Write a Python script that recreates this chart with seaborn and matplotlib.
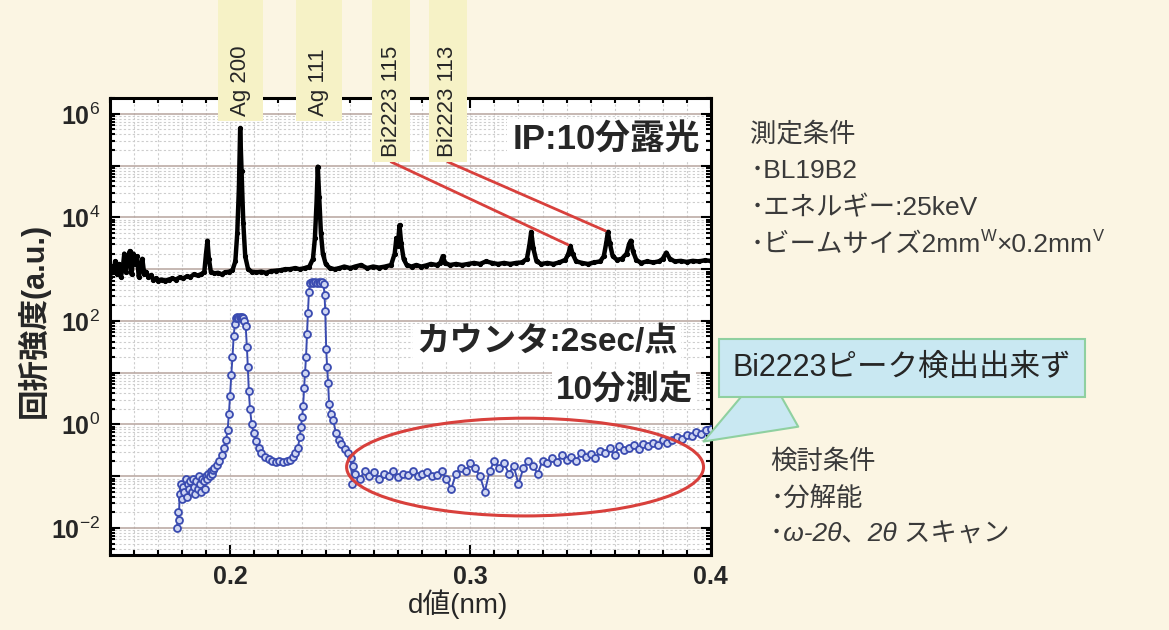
import numpy as np
import pandas as pd
import matplotlib
matplotlib.use("Agg")
import matplotlib.pyplot as plt
import matplotlib.transforms as mtransforms
from matplotlib.patches import Ellipse, Rectangle
from matplotlib.ticker import FixedLocator, LogLocator, MultipleLocator, NullFormatter
import seaborn as sns

# ---------------------------------------------------------------
# values: d (nm) and log10 of the intensity
# ---------------------------------------------------------------
# IP, 10 min exposure (black curve)
ip_d = [0.1500, 0.1508, 0.1515, 0.1522, 0.1530, 0.1538, 0.1545, 0.1553, 0.1560, 0.1567,
        0.1575, 0.1583, 0.1590, 0.1598, 0.1605, 0.1613, 0.1620, 0.1628, 0.1635, 0.1643,
        0.1650, 0.1660, 0.1670, 0.1680, 0.1690, 0.1700, 0.1715, 0.1730, 0.1745, 0.1760,
        0.1775, 0.1790, 0.1805, 0.1820, 0.1835, 0.1850, 0.1865, 0.1880, 0.1893, 0.1900,
        0.1906, 0.1912, 0.1920, 0.1935, 0.1950, 0.1965, 0.1980, 0.1995, 0.2010, 0.2022,
        0.2030, 0.2037, 0.2042, 0.2048, 0.2055, 0.2063, 0.2075, 0.2090, 0.2110, 0.2130,
        0.2150, 0.2170, 0.2190, 0.2210, 0.2230, 0.2250, 0.2270, 0.2290, 0.2310, 0.2330,
        0.2345, 0.2353, 0.2360, 0.2365, 0.2371, 0.2378, 0.2386, 0.2398, 0.2415, 0.2435,
        0.2455, 0.2475, 0.2500, 0.2520, 0.2545, 0.2570, 0.2595, 0.2620, 0.2645, 0.2670,
        0.2685, 0.2692, 0.2698, 0.2705, 0.2712, 0.2722, 0.2735, 0.2755, 0.2775, 0.2795,
        0.2815, 0.2835, 0.2860, 0.2875, 0.2885, 0.2895, 0.2915, 0.2940, 0.2965, 0.2990,
        0.3015, 0.3040, 0.3065, 0.3090, 0.3115, 0.3140, 0.3165, 0.3190, 0.3215, 0.3235,
        0.3245, 0.3253, 0.3262, 0.3275, 0.3295, 0.3320, 0.3345, 0.3370, 0.3395, 0.3408,
        0.3416, 0.3425, 0.3440, 0.3465, 0.3490, 0.3515, 0.3540, 0.3555, 0.3565, 0.3572,
        0.3580, 0.3592, 0.3610, 0.3630, 0.3650, 0.3660, 0.3667, 0.3676, 0.3690, 0.3710,
        0.3735, 0.3760, 0.3785, 0.3800, 0.3815, 0.3830, 0.3850, 0.3875, 0.3900, 0.3925,
        0.3950, 0.3975, 0.4000]
ip_log = [2.85, 3.05, 2.95, 3.15, 2.90, 3.10, 2.85, 3.00, 3.30, 2.95,
          3.20, 3.35, 2.90, 3.30, 3.10, 3.25, 2.85, 3.00, 3.20, 2.90,
          2.95, 2.85, 2.88, 2.80, 2.82, 2.78, 2.80, 2.78, 2.80, 2.82,
          2.80, 2.84, 2.82, 2.86, 2.85, 2.90, 2.88, 2.90, 2.95, 3.30,
          3.55, 3.20, 2.95, 2.92, 2.93, 2.90, 2.94, 2.95, 2.98, 3.15,
          3.70, 4.60, 5.72, 4.90, 3.90, 3.25, 3.00, 2.95, 2.94, 2.95,
          2.93, 2.96, 2.97, 2.98, 3.00, 3.00, 3.02, 3.00, 3.02, 3.05,
          3.20, 3.60, 4.30, 4.98, 4.40, 3.70, 3.30, 3.10, 3.02, 3.00,
          3.02, 3.05, 3.02, 3.05, 3.08, 3.02, 3.05, 3.03, 3.05, 3.08,
          3.30, 3.60, 3.45, 3.85, 3.50, 3.20, 3.08, 3.05, 3.08, 3.05,
          3.07, 3.10, 3.08, 3.12, 3.25, 3.12, 3.08, 3.10, 3.08, 3.10,
          3.12, 3.10, 3.15, 3.12, 3.10, 3.12, 3.10, 3.12, 3.13, 3.20,
          3.45, 3.72, 3.40, 3.15, 3.10, 3.12, 3.10, 3.13, 3.18, 3.30,
          3.45, 3.30, 3.15, 3.12, 3.10, 3.13, 3.15, 3.25, 3.50, 3.72,
          3.50, 3.25, 3.18, 3.20, 3.30, 3.48, 3.55, 3.35, 3.18, 3.12,
          3.15, 3.13, 3.15, 3.20, 3.32, 3.20, 3.15, 3.16, 3.14, 3.16,
          3.15, 3.17, 3.16]

# counter, 2 sec / point (blue curve)
cnt_d = [0.1780, 0.1783, 0.1787, 0.1790, 0.1795, 0.1800, 0.1805, 0.1810, 0.1815, 0.1820,
         0.1825, 0.1830, 0.1835, 0.1840, 0.1845, 0.1850, 0.1855, 0.1860, 0.1865, 0.1870,
         0.1875, 0.1880, 0.1885, 0.1890, 0.1895, 0.1900, 0.1905, 0.1910, 0.1915, 0.1920,
         0.1925, 0.1930, 0.1935, 0.1945, 0.1955, 0.1965, 0.1975, 0.1983, 0.1990, 0.1995,
         0.2000, 0.2005, 0.2010, 0.2015, 0.2020, 0.2025, 0.2030, 0.2035, 0.2040, 0.2045,
         0.2050, 0.2055, 0.2060, 0.2065, 0.2070, 0.2074, 0.2078, 0.2083, 0.2090, 0.2098,
         0.2108, 0.2119, 0.2130, 0.2145, 0.2160, 0.2175, 0.2190, 0.2205, 0.2220, 0.2235,
         0.2250, 0.2262, 0.2272, 0.2282, 0.2290, 0.2295, 0.2300, 0.2304, 0.2308, 0.2312,
         0.2316, 0.2320, 0.2324, 0.2328, 0.2333, 0.2340, 0.2347, 0.2354, 0.2361, 0.2368,
         0.2375, 0.2382, 0.2389, 0.2393, 0.2396, 0.2400, 0.2404, 0.2408, 0.2412, 0.2420,
         0.2429, 0.2441, 0.2452, 0.2462, 0.2477, 0.2492, 0.2503, 0.2508, 0.2513, 0.2520,
         0.2540, 0.2560, 0.2580, 0.2600, 0.2620, 0.2640, 0.2660, 0.2680, 0.2700, 0.2720,
         0.2740, 0.2760, 0.2780, 0.2800, 0.2820, 0.2840, 0.2860, 0.2880, 0.2900, 0.2920,
         0.2940, 0.2960, 0.2980, 0.3000, 0.3020, 0.3040, 0.3060, 0.3080, 0.3100, 0.3120,
         0.3140, 0.3160, 0.3180, 0.3200, 0.3220, 0.3240, 0.3260, 0.3280, 0.3300, 0.3320,
         0.3340, 0.3360, 0.3380, 0.3400, 0.3420, 0.3440, 0.3460, 0.3480, 0.3500, 0.3520,
         0.3540, 0.3560, 0.3580, 0.3600, 0.3620, 0.3640, 0.3660, 0.3680, 0.3700, 0.3720,
         0.3740, 0.3760, 0.3780, 0.3800, 0.3820, 0.3840, 0.3860, 0.3880, 0.3900, 0.3920,
         0.3940, 0.3960, 0.3980, 0.4000]
cnt_log = [-2.00, -1.70, -1.85, -1.35, -1.15, -1.45, -1.20, -1.30, -1.05, -1.40,
           -1.15, -1.25, -1.10, -1.30, -1.05, -1.20, -1.35, -1.10, -1.25, -1.00,
           -1.15, -1.30, -1.05, -1.10, -1.25, -1.00, -1.05, -0.95, -1.00, -0.90,
           -0.95, -0.88, -0.85, -0.78, -0.70, -0.60, -0.45, -0.30, -0.10, 0.20,
           0.55, 0.95, 1.30, 1.70, 1.95, 2.06, 2.08, 2.06, 2.08, 2.06,
           2.08, 2.05, 2.00, 1.90, 1.50, 1.10, 0.65, 0.30, 0.00, -0.17,
           -0.32, -0.45, -0.55, -0.62, -0.66, -0.70, -0.72, -0.70, -0.72, -0.70,
           -0.68, -0.62, -0.55, -0.45, -0.25, -0.05, 0.15, 0.35, 0.70, 1.00,
           1.30, 1.75, 2.15, 2.55, 2.74, 2.76, 2.74, 2.76, 2.74, 2.76,
           2.74, 2.75, 2.72, 2.50, 2.20, 1.45, 1.10, 0.80, 0.40, 0.20,
           0.08, -0.17, -0.30, -0.37, -0.48, -0.56, -0.65, -1.15, -0.80, -0.95,
           -1.05, -0.90, -1.00, -0.92, -1.05, -0.95, -1.00, -0.90, -1.02, -0.95,
           -0.98, -0.90, -1.00, -0.95, -0.92, -1.00, -0.97, -0.90, -1.05, -1.25,
           -0.95, -0.85, -0.90, -0.75, -0.85, -1.00, -1.30, -0.90, -0.70, -0.85,
           -0.75, -0.95, -0.80, -1.15, -0.85, -0.70, -0.80, -0.95, -0.70, -0.75,
           -0.65, -0.72, -0.60, -0.68, -0.62, -0.70, -0.55, -0.62, -0.58, -0.65,
           -0.52, -0.55, -0.45, -0.60, -0.42, -0.50, -0.45, -0.40, -0.48, -0.38,
           -0.42, -0.35, -0.40, -0.30, -0.35, -0.30, -0.25, -0.28, -0.20, -0.22,
           -0.15, -0.18, -0.10, -0.08]

# peak labels above the frame
peak_names = ["Ag 200", "Ag 111", "Bi2223 115", "Bi2223 113"]
peak_label_d = [0.2044, 0.2370, 0.2670, 0.2906]
# Bi2223 peaks on the IP curve that the red lines point at
bi_peak_d = [0.3416, 0.3572]
bi_peak_log = [3.45, 3.72]

x_ticks = [0.2, 0.3, 0.4]
y_decades = [-2, -1, 0, 1, 2, 3, 4, 5, 6]
y_labelled = [-2, 0, 2, 4, 6]

cond_meas = ["測定条件", "･BL19B2", "･エネルギー:25keV"]
beam_parts = ["･ビームサイズ2mm", "W", "×0.2mm", "V"]
cond_study = ["検討条件", "･分解能", "･ω-2θ、2θ スキャン"]

# ---------------------------------------------------------------
BG = "#fbf5e3"
BLUE = "#3a4bb0"
RED = "#d8403c"
YEL = "#f6f2c6"
INFO = "#3a3a3a"

sns.set_style("ticks")
plt.rcParams["font.family"] = ["Liberation Sans", "Noto Sans CJK JP", "DejaVu Sans"]
plt.rcParams["mathtext.fontset"] = "custom"
plt.rcParams["mathtext.rm"] = "Liberation Sans"
plt.rcParams["mathtext.bf"] = "Liberation Sans:bold"

fig = plt.figure(figsize=(11.69, 6.3), dpi=100, facecolor=BG)
ax = fig.add_axes([0.094, 0.119, 0.514, 0.725])
ax.set_facecolor("white")
ax.set_yscale("log")

ip = pd.DataFrame({"d": ip_d, "I": np.power(10.0, ip_log)})
cnt = pd.DataFrame({"d": cnt_d, "I": np.power(10.0, cnt_log)})

sns.lineplot(data=ip, x="d", y="I", ax=ax, color="black", lw=3.2,
             marker="o", markersize=3, markeredgecolor="black",
             estimator=None, sort=False, legend=False, zorder=3)
sns.lineplot(data=cnt, x="d", y="I", ax=ax, color=BLUE, lw=1.4,
             marker="o", markersize=5, markerfacecolor="#cfd6f2",
             markeredgecolor=BLUE, markeredgewidth=1.3,
             estimator=None, sort=False, legend=False, zorder=4)

ax.set_xlim(0.15, 0.40)
ax.set_ylim(3e-3, 2e6)

ax.set_xticks(x_ticks)
ax.set_xticklabels([f"{v:.1f}" for v in x_ticks], fontsize=18, fontweight="bold")
ax.xaxis.set_minor_locator(MultipleLocator(0.01))
ax.yaxis.set_major_locator(FixedLocator([10.0 ** e for e in y_decades]))
ax.set_yticklabels([r"$\mathbf{10}^{%d}$" % e if e in y_labelled else "" for e in y_decades],
                   fontsize=18)
ax.yaxis.set_minor_locator(LogLocator(base=10, subs=np.arange(2, 10) * 1.0, numticks=100))
ax.yaxis.set_minor_formatter(NullFormatter())

ax.tick_params(which="both", direction="in", top=True, right=True, width=1.5, color="black")
ax.tick_params(which="major", length=7, pad=7)
ax.tick_params(which="minor", length=3.5)
for s in ax.spines.values():
    s.set_linewidth(2.2)
    s.set_color("black")

ax.grid(True, which="major", axis="y", color="#b6a49e", lw=1.1)
ax.grid(True, which="minor", axis="y", color="#cdcdcd", lw=0.8, ls=(0, (2, 2)))
ax.grid(True, which="both", axis="x", color="#cdcdcd", lw=0.8, ls=(0, (2, 2)))
ax.set_axisbelow(True)

ax.set_xlabel("d値(nm)", fontsize=20)
ax.xaxis.set_label_coords(0.58, -0.075)
ax.set_ylabel("回折強度(a.u.)", fontsize=22, fontweight="bold")
ax.yaxis.set_label_coords(-0.1, 0.514)

# texts inside the frame
ax.text(0.982, 0.908, "IP:10分露光", transform=ax.transAxes, ha="right", va="center",
        fontsize=25, fontweight="bold", zorder=6,
        bbox=dict(boxstyle="square,pad=0.15", fc="white", ec="none"))
ax.text(0.945, 0.465, "カウンタ:2sec/点", transform=ax.transAxes, ha="right", va="center",
        fontsize=24, fontweight="bold", zorder=6,
        bbox=dict(boxstyle="square,pad=0.1", fc="white", ec="none"))
ax.text(0.970, 0.363, "10分測定", transform=ax.transAxes, ha="right", va="center",
        fontsize=24, fontweight="bold", zorder=6,
        bbox=dict(boxstyle="square,pad=0.1", fc="white", ec="none"))

# red ellipse round the region where no Bi2223 peak shows up
ax.add_patch(Ellipse((0.691, 0.1926), 0.594, 0.214, transform=ax.transAxes,
                     fill=False, ec=RED, lw=2.2, zorder=5))

# callout
ax.annotate("Bi2223ピーク検出出来ず", xy=(0.397, 10 ** -0.33), xycoords="data",
            xytext=(0.627, 0.416), textcoords="figure fraction",
            fontsize=22, ha="left", va="center", zorder=8, annotation_clip=False,
            bbox=dict(boxstyle="square,pad=0.45", fc="#c9e8f2", ec="#8fd0a0", lw=1.5),
            arrowprops=dict(arrowstyle="wedge,tail_width=2.2", fc="#c9e8f2", ec="#8fd0a0",
                            lw=1.5, relpos=(0.22, 0.0), shrinkA=0, shrinkB=0))

# peak label boxes above the frame
blend = mtransforms.blended_transform_factory(ax.transData, fig.transFigure)
box_bottom = [0.808, 0.808, 0.743, 0.743]
box_width = [0.019, 0.019, 0.016, 0.016]
for name, d, y0, w in zip(peak_names, peak_label_d, box_bottom, box_width):
    fig.add_artist(Rectangle((d - w / 2, y0), w, 1.0 - y0, transform=blend,
                             fc=YEL, ec="none", zorder=2))
    fig.text(d, y0 + 0.008, name, transform=blend, rotation=90, ha="center",
             va="bottom", fontsize=16, zorder=3)

# red lines from the Bi2223 labels to their peaks
for d_lab, d_pk, lg in zip(peak_label_d[2:], bi_peak_d, bi_peak_log):
    ax.annotate("", xy=(d_pk, 10 ** lg), xycoords="data",
                xytext=(d_lab, box_bottom[2]), textcoords=("data", "figure fraction"),
                annotation_clip=False, zorder=6,
                arrowprops=dict(arrowstyle="-", color=RED, lw=2.0, shrinkA=0, shrinkB=2))

# measurement / study conditions on the right
step = 0.0585
for i, line in enumerate(cond_meas):
    fig.text(0.642, 0.787 - i * step, line, fontsize=19, color=INFO, va="center")
prev = fig.text(0.642, 0.787 - 3 * step, beam_parts[0], fontsize=19, color=INFO, va="center")
base = prev
for j, part in enumerate(beam_parts[1:]):
    sup = j % 2 == 0
    prev = ax.annotate(part, xy=(1.0, 0.85 if sup else 0.5), xycoords=(prev, base),
                       fontsize=12 if sup else 19, color=INFO,
                       ha="left", va="center", annotation_clip=False)
for i, line in enumerate(cond_study):
    fig.text(0.659, 0.267 - i * 0.058, line, fontsize=19, color=INFO, va="center",
             style="italic" if i == 2 else "normal")

fig.savefig("out.png", dpi=100, facecolor=BG)
